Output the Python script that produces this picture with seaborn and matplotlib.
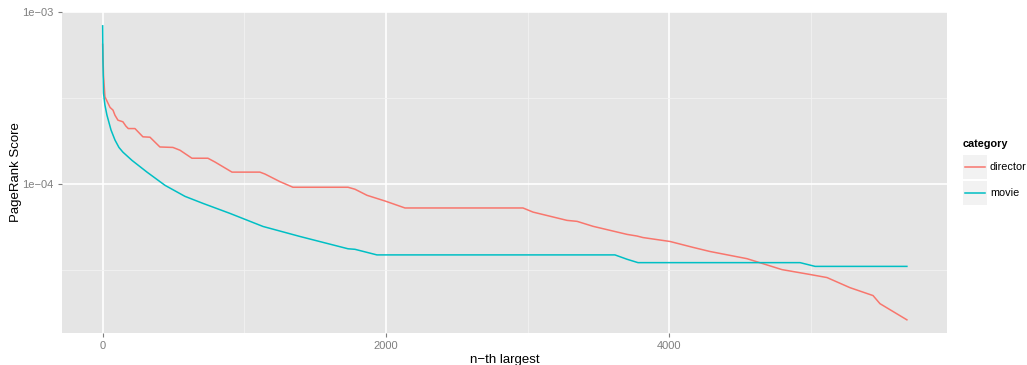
import numpy as np
import pandas as pd
import matplotlib
matplotlib.use("Agg")
import matplotlib.pyplot as plt
import seaborn as sns
from matplotlib.patches import Rectangle
from matplotlib.lines import Line2D
from matplotlib.ticker import FixedLocator, FixedFormatter

# Data
director_rank = [0, 6, 16, 37, 52, 73, 87, 108, 143, 164, 181, 228, 284, 334, 404, 496, 546,
                 630, 743, 793, 913, 1110, 1146, 1202, 1251, 1343, 1732, 1781, 1866, 1993,
                 2134, 2967, 3038, 3278, 3349, 3462, 3702, 3772, 3814, 4005, 4167, 4287,
                 4548, 4795, 4993, 5113, 5275, 5438, 5487, 5677]
director_score = [6.5e-4, 4.3e-4, 3.22e-4, 2.96e-4, 2.79e-4, 2.69e-4, 2.51e-4, 2.35e-4, 2.30e-4,
                  2.17e-4, 2.10e-4, 2.10e-4, 1.88e-4, 1.87e-4, 1.64e-4, 1.63e-4, 1.57e-4,
                  1.41e-4, 1.41e-4, 1.34e-4, 1.17e-4, 1.17e-4, 1.14e-4, 1.08e-4, 1.03e-4,
                  9.55e-5, 9.55e-5, 9.3e-5, 8.57e-5, 7.94e-5, 7.23e-5, 7.23e-5, 6.84e-5,
                  6.12e-5, 6.04e-5, 5.65e-5, 5.07e-5, 4.96e-5, 4.86e-5, 4.61e-5, 4.26e-5,
                  4.03e-5, 3.66e-5, 3.16e-5, 2.96e-5, 2.84e-5, 2.48e-5, 2.23e-5, 2.00e-5, 1.61e-5]

movie_rank = [0, 2, 6, 16, 30, 59, 87, 115, 143, 207, 313, 440, 581, 708, 899, 1132, 1393,
              1732, 1781, 1936, 3616, 3702, 3779, 4923, 5029, 5677]
movie_score = [8.34e-4, 5.27e-4, 3.38e-4, 2.88e-4, 2.52e-4, 2.06e-4, 1.80e-4, 1.63e-4, 1.53e-4,
               1.37e-4, 1.17e-4, 9.8e-5, 8.45e-5, 7.69e-5, 6.72e-5, 5.64e-5, 4.93e-5,
               4.18e-5, 4.15e-5, 3.85e-5, 3.85e-5, 3.63e-5, 3.47e-5, 3.47e-5, 3.30e-5, 3.30e-5]

categories = ["director", "movie"]
colors = ["#F8766D", "#00BFC4"]

x_ticks = [0, 2000, 4000]
x_minor = [1000, 3000, 5000]
y_ticks = [1e-4, 1e-3]
y_tick_labels = ["1e\u221204", "1e\u221203"]
y_minor = [10 ** -4.5, 10 ** -3.5]

df = pd.concat([
    pd.DataFrame({"rank": director_rank, "score": director_score, "category": "director"}),
    pd.DataFrame({"rank": movie_rank, "score": movie_score, "category": "movie"}),
])

W, H = 1027, 365
plt.rcParams["font.family"] = ["Liberation Sans", "DejaVu Sans"]

fig = plt.figure(figsize=(W / 100, H / 100), dpi=100)
ax = fig.add_axes([62 / W, 32 / H, 884.7 / W, 321 / H])
ax.set_facecolor("#E5E5E5")

sns.lineplot(data=df, x="rank", y="score", hue="category", hue_order=categories,
             palette=colors, estimator=None, sort=False, linewidth=1.1, legend=False, ax=ax)

ax.set_yscale("log")
ax.set_xlim(-287, 5958)
ax.set_ylim(10 ** -4.87, 10 ** -2.998)

ax.xaxis.set_major_locator(FixedLocator(x_ticks))
ax.xaxis.set_minor_locator(FixedLocator(x_minor))
ax.yaxis.set_major_locator(FixedLocator(y_ticks))
ax.yaxis.set_major_formatter(FixedFormatter(y_tick_labels))
ax.yaxis.set_minor_locator(FixedLocator(y_minor))
ax.yaxis.set_minor_formatter(FixedFormatter(["", ""]))

ax.grid(which="major", color="white", linewidth=1.2)
ax.grid(which="minor", color="#F2F2F2", linewidth=0.6)
ax.set_axisbelow(True)
for s in ax.spines.values():
    s.set_visible(False)

ax.tick_params(which="major", length=3, width=0.8, color="#7F7F7F",
               labelcolor="#7F7F7F", labelsize=8, pad=3)
ax.tick_params(which="minor", length=0)

ax.set_xlabel("n\u2212th largest", fontsize=9.5, labelpad=2)
ax.set_ylabel("PageRank Score", fontsize=9.5, labelpad=0)

# legend drawn by hand, ggplot-style
def fx(px):
    return px / W


def fy(py):
    return 1 - py / H


fig.text(fx(963), fy(144), "category", fontsize=7.8, fontweight="bold", va="center", ha="left")
for i, (cat, col) in enumerate(zip(categories, colors)):
    top = 155 + i * 26
    fig.add_artist(Rectangle((fx(963), fy(top + 24)), 24 / W, 24 / H,
                             transform=fig.transFigure, facecolor="#F2F2F2", edgecolor="none"))
    fig.add_artist(Line2D([fx(965), fx(985)], [fy(top + 12), fy(top + 12)],
                          transform=fig.transFigure, color=col, linewidth=1.1))
    fig.text(fx(990), fy(top + 12), cat, fontsize=7.8, va="center", ha="left")

fig.savefig("out.png", dpi=100)
